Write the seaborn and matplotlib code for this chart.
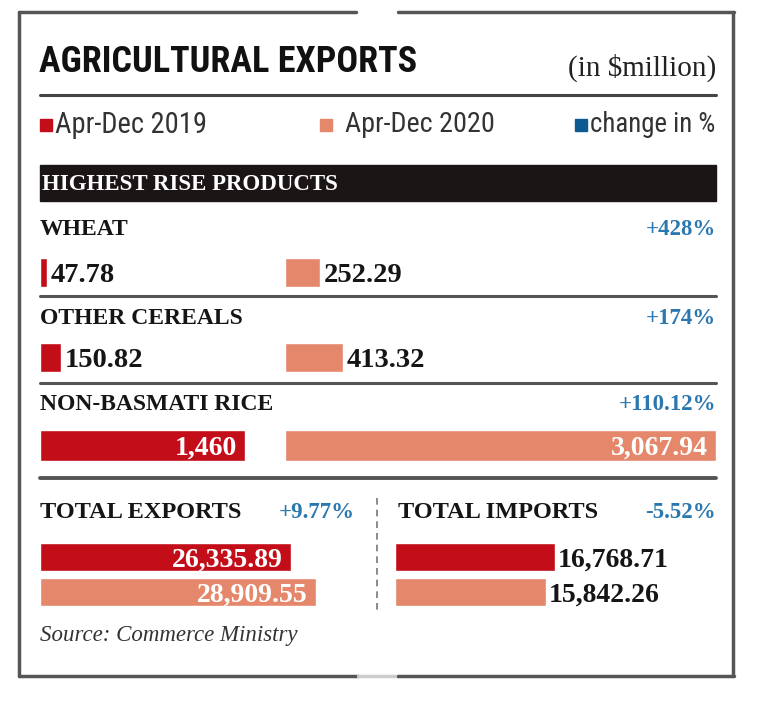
import pandas as pd
import matplotlib.pyplot as plt
import seaborn as sns
from matplotlib import font_manager
from matplotlib.lines import Line2D
from matplotlib.patches import Rectangle

# ---- data (in $million) ----
products = ["WHEAT", "OTHER CEREALS", "NON-BASMATI RICE"]
exports_2019 = [47.78, 150.82, 1460]
exports_2020 = [252.29, 413.32, 3067.94]
labels_2019 = ["47.78", "150.82", "1,460"]
labels_2020 = ["252.29", "413.32", "3,067.94"]
product_change = ["+428%", "+174%", "+110.12%"]

periods = ["Apr-Dec 2019", "Apr-Dec 2020"]
total_exports = [26335.89, 28909.55]
total_imports = [16768.71, 15842.26]
total_exports_labels = ["26,335.89", "28,909.55"]
total_imports_labels = ["16,768.71", "15,842.26"]
exports_change = "+9.77%"
imports_change = "-5.52%"

# ---- style ----
RED = "#c30d19"
SALMON = "#e4876a"
BLUE_TXT = "#2b78b0"
BLUE_BOX = "#0d5a92"
DARK = "#1b1516"
FRAME = "#555555"

SERIF = ["Liberation Serif", "DejaVu Serif"]
installed = {f.name for f in font_manager.fontManager.ttflist}
narrow = [n for n in ["Liberation Sans Narrow", "DejaVu Sans Condensed", "Roboto Condensed",
                      "Noto Sans Condensed", "Open Sans Condensed"] if n in installed]
NARROW = narrow + ["DejaVu Sans"]

sns.set_theme(style="white")
plt.rcParams["font.family"] = SERIF

W, H = 759, 701
fig = plt.figure(figsize=(W / 100, H / 100), dpi=100)
fig.patch.set_facecolor("white")


def fx(x):
    return x / W


def fy(y):
    return 1 - y / H


def txt(x, y, s, **kw):
    kw.setdefault("va", "center")
    return fig.text(fx(x), fy(y), s, **kw)


def fit_width(t, width_px):
    # shrink/grow a text so it spans width_px on the canvas
    fig.canvas.draw()
    bb = t.get_window_extent()
    t.set_fontsize(t.get_fontsize() * width_px / bb.width)


def hline(y, x0, x1, lw=2, color=FRAME, **kw):
    fig.add_artist(Line2D([fx(x0), fx(x1)], [fy(y), fy(y)], lw=lw, color=color, **kw))


def vline(x, y0, y1, lw=2, color=FRAME, **kw):
    fig.add_artist(Line2D([fx(x), fx(x)], [fy(y0), fy(y1)], lw=lw, color=color, **kw))


def px_axes(x0, y0, x1, y1):
    return fig.add_axes([fx(x0), fy(y1), (x1 - x0) / W, (y1 - y0) / H])


# ---- outer frame ----
hline(12, 19, 356, lw=2.5)
hline(12, 398, 734, lw=2.5)
hline(676, 19, 358, lw=2.5)
hline(676, 358, 398, lw=2.5, color="#cccccc")
hline(676, 398, 734, lw=2.5)
vline(19, 12, 676, lw=2.5)
vline(733, 12, 676, lw=2.5)

# ---- header ----
title = txt(39, 62, "AGRICULTURAL EXPORTS", family=NARROW, fontstretch="condensed",
            fontsize=27, weight="bold", color="#111111")
fit_width(title, 378)
txt(716, 68, "(in $million)", ha="right", fontsize=21, color="#222222")
hline(95, 40, 716, lw=2.2, color="#444444")

legend_items = [(40, 55, 207, RED, periods[0]), (320, 345, 495, SALMON, periods[1]),
                (575, 590, 716, BLUE_BOX, "change in %")]
for bx, tx, tx1, col, lab in legend_items:
    fig.add_artist(Rectangle((fx(bx), fy(131)), 12 / W, 12 / H, color=col))
    t = txt(tx, 125, lab, family=NARROW, fontstretch="condensed", fontsize=15, color="#333333")
    fit_width(t, tx1 - tx)

fig.add_artist(Rectangle((fx(40), fy(201)), 676 / W, 36 / H, color=DARK))
txt(42, 184, "HIGHEST RISE PRODUCTS", fontsize=16.5, weight="bold", color="white")

# ---- product rows ----
row_top = [258, 343, 430]
row_h = [29, 29, 31]
name_y = [230, 318, 405]
sep_y = [296, 383, 478]
left_x, mid_x, right_x = 40, 285, 716
scale_p = (right_x - mid_x) / max(exports_2020)  # px per $million

for i, name in enumerate(products):
    txt(40, name_y[i], name, fontsize=17, weight="bold", color="#151515")
    txt(716, name_y[i], product_change[i], ha="right", fontsize=16.5, weight="bold",
        color=BLUE_TXT)
    top, bot = row_top[i], row_top[i] + row_h[i]
    inside = exports_2020[i] * scale_p > 200

    for (x0, x1), val, lab, col in [((left_x, mid_x), exports_2019[i], labels_2019[i], RED),
                                    ((mid_x, right_x), exports_2020[i], labels_2020[i], SALMON)]:
        ax = px_axes(x0, top, x1, bot)
        sns.barplot(x=[val], y=[name], color=col, width=1.0, saturation=1, ax=ax)
        ax.set_xlim(0, (x1 - x0) / scale_p)
        ax.set_axis_off()
        if inside:
            anns = ax.bar_label(ax.containers[0], labels=[lab], padding=-6,
                                color="white", fontsize=20, weight="bold")
            for a in anns:
                a.set_ha("right")
                a.set_va("center_baseline")
        else:
            anns = ax.bar_label(ax.containers[0], labels=[lab], padding=2.5,
                                color="#151515", fontsize=20.5, weight="bold")
            for a in anns:
                a.set_va("center_baseline")

    hline(sep_y[i], 40, 716, lw=2.2 if i < 2 else 2.8, color="#555555")

# ---- totals ----
txt(40, 512, "TOTAL EXPORTS", fontsize=17.5, weight="bold", color="#151515")
txt(355, 512, exports_change, ha="right", fontsize=16.5, weight="bold", color=BLUE_TXT)
txt(398, 512, "TOTAL IMPORTS", fontsize=17.5, weight="bold", color="#151515")
txt(716, 512, imports_change, ha="right", fontsize=16.5, weight="bold", color=BLUE_TXT)
vline(377, 498, 612, lw=1.2, color="#777777", linestyle=(0, (4, 3)))

scale_t = (316 - 40) / max(total_exports)
totals = [(40, 372, total_exports, total_exports_labels, True),
          (395, 716, total_imports, total_imports_labels, False)]
for x0, x1, vals, labs, inside in totals:
    ax = px_axes(x0, 540, x1, 609)
    df = pd.DataFrame({"period": periods, "value": vals})
    sns.barplot(data=df, x="value", y="period", hue="period",
                palette=[RED, SALMON], width=0.82, saturation=1, legend=False, ax=ax)
    ax.set_xlim(0, (x1 - x0) / scale_t)
    ax.set_axis_off()
    for cont, lab in zip(ax.containers, labs):
        if inside:
            anns = ax.bar_label(cont, labels=[lab], padding=-6, color="white",
                                fontsize=20, weight="bold")
            for a in anns:
                a.set_ha("right")
                a.set_va("center_baseline")
        else:
            anns = ax.bar_label(cont, labels=[lab], padding=2, color="#151515",
                                fontsize=20, weight="bold")
            for a in anns:
                a.set_va("center_baseline")

txt(40, 636, "Source: Commerce Ministry", fontsize=16.5, style="italic", color="#333333")

fig.savefig("out.png", dpi=100)
